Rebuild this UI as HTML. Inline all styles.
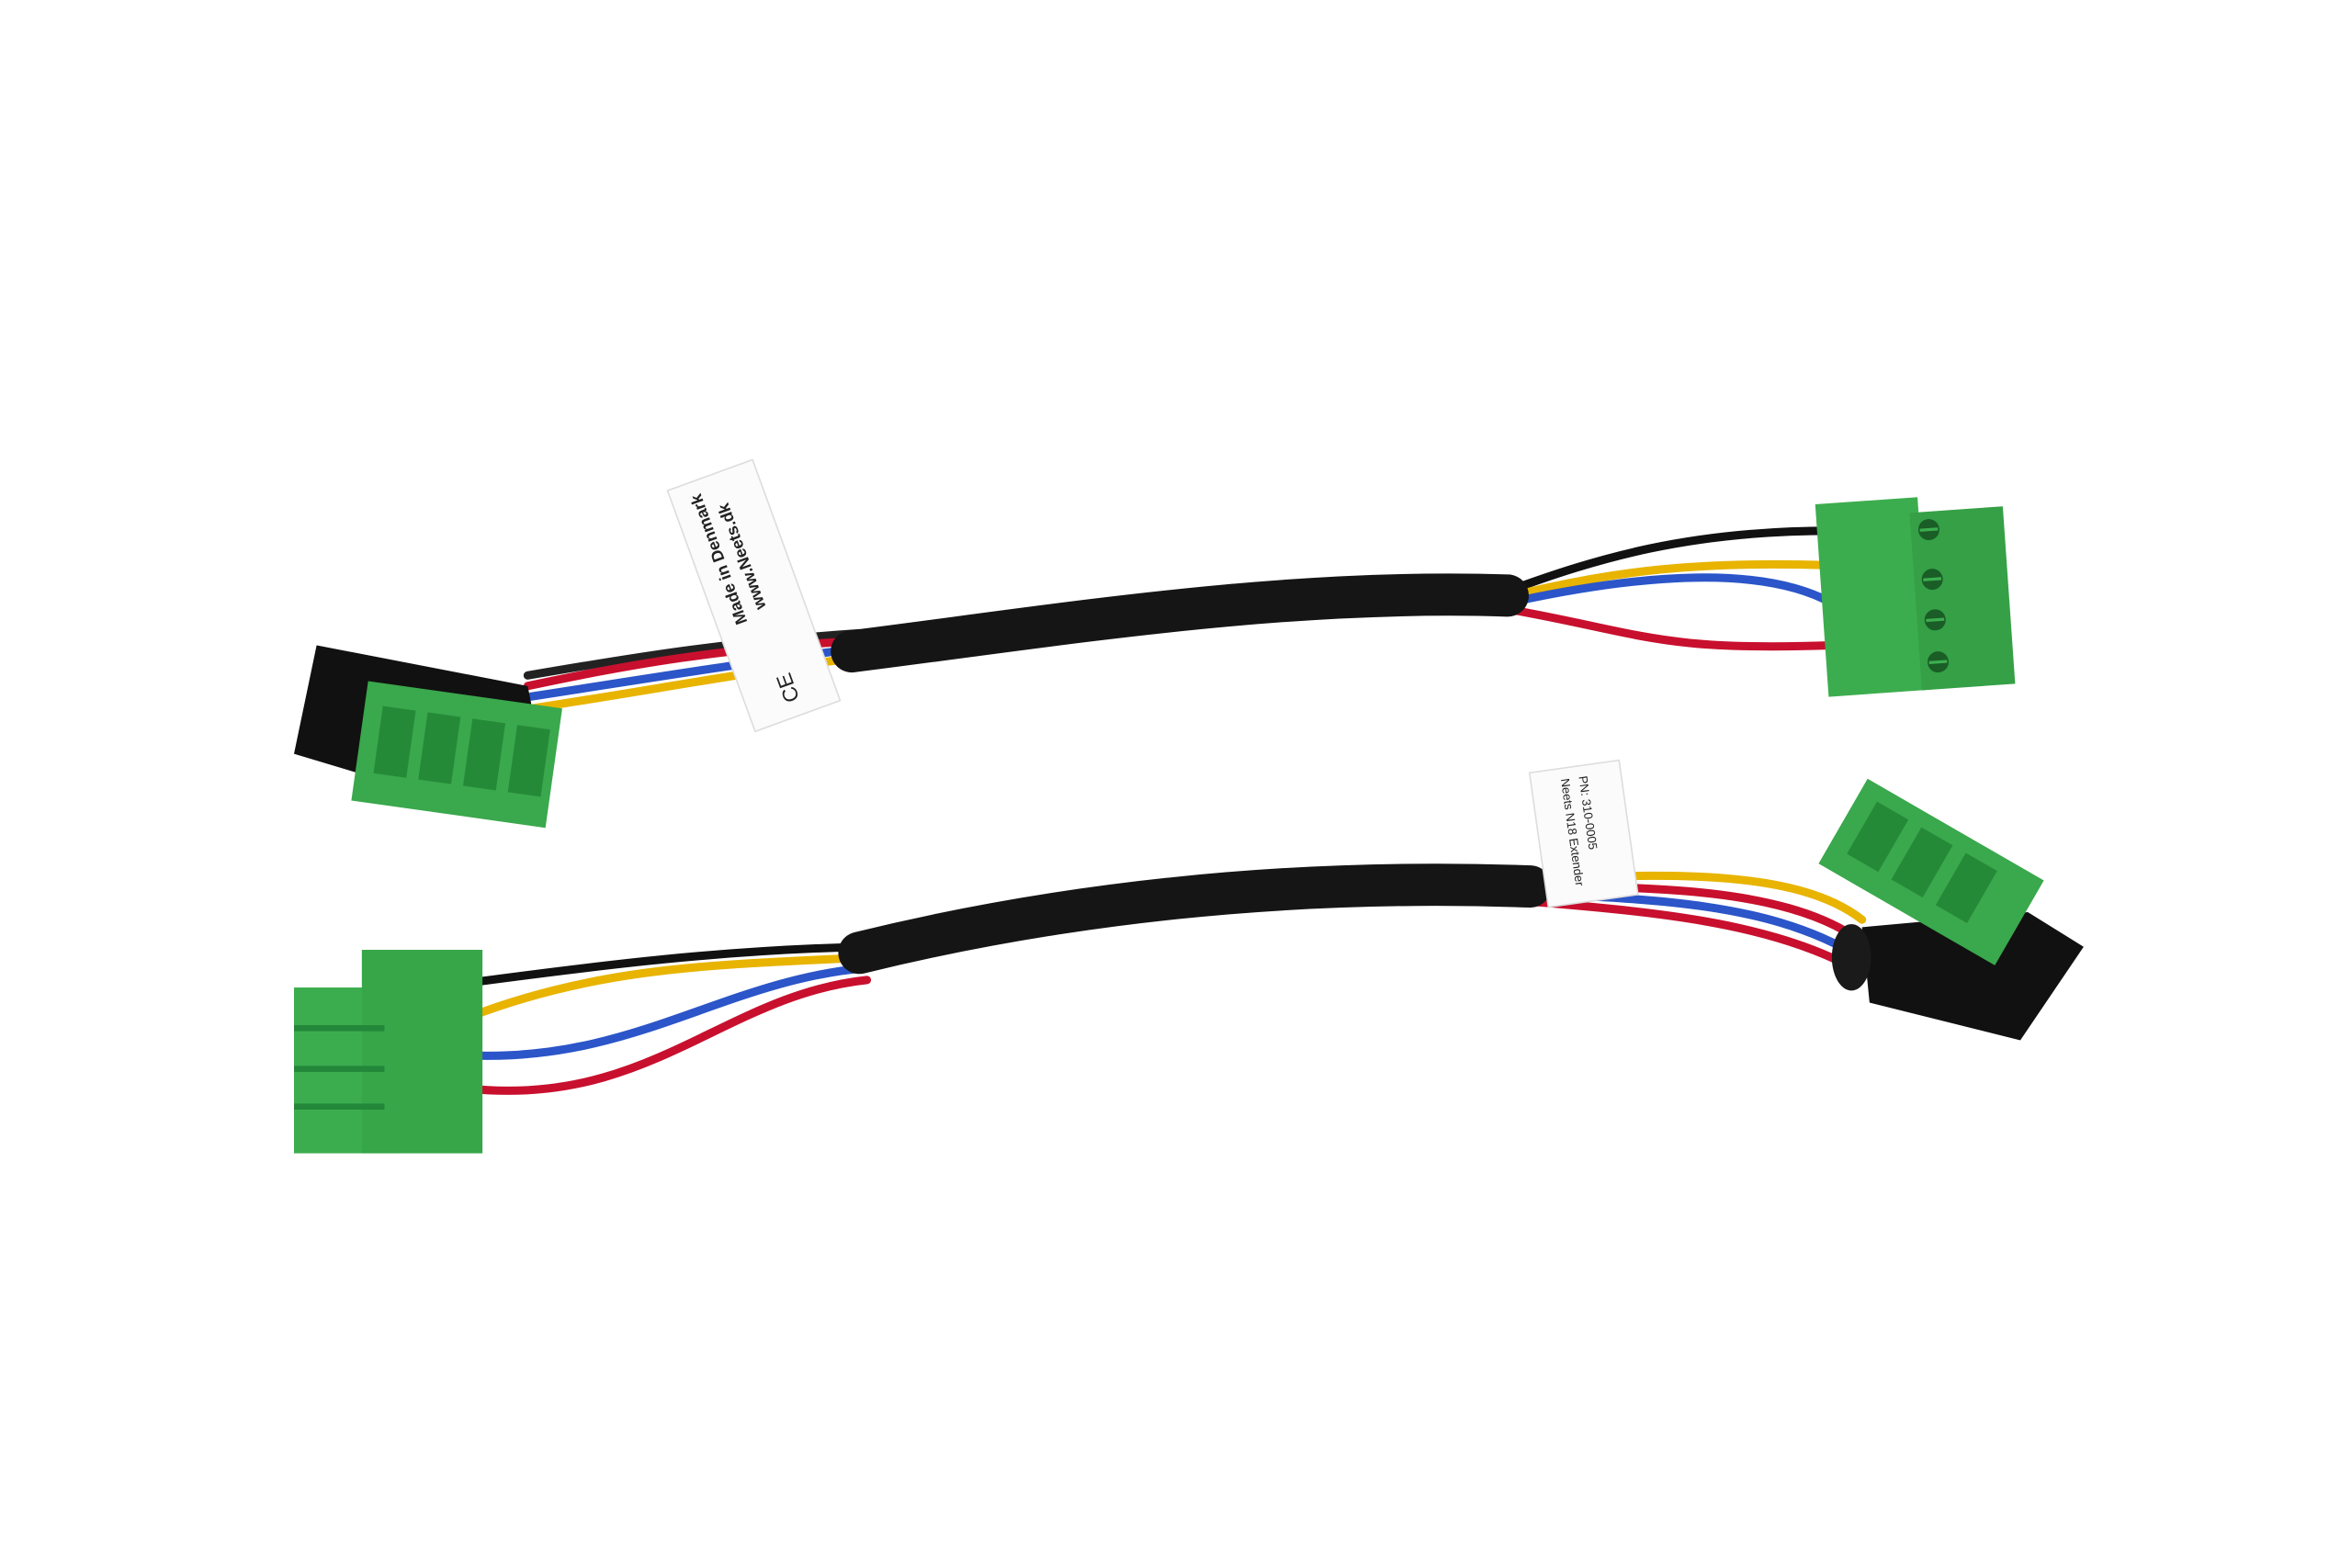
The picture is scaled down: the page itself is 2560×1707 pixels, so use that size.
<!DOCTYPE html>
<html><head><meta charset="utf-8"><style>
html,body{margin:0;padding:0;background:#fff;}
svg{display:block;}
</style></head><body>
<svg width="2560" height="1707" viewBox="0 0 1560 1040" xmlns="http://www.w3.org/2000/svg">
<rect width="1560" height="1040" fill="#fff"/>
<g fill="none" stroke-linecap="round">
<path d="M350 448 C420 436 480 426 570 420" stroke="#222" stroke-width="5.5"/>
<path d="M350 455 C420 440 480 430 570 425" stroke="#c8102e" stroke-width="5.5"/>
<path d="M352 462 C430 450 490 440 570 430" stroke="#2b55c8" stroke-width="5.5"/>
<path d="M352 470 C430 458 500 445 570 436" stroke="#e8b400" stroke-width="5.5"/>
<path d="M1000 392 C1060 370 1120 352 1215 352" stroke="#111" stroke-width="5.5"/>
<path d="M1000 396 C1070 378 1130 372 1215 375" stroke="#e8b400" stroke-width="5.5"/>
<path d="M1000 400 C1090 380 1170 375 1215 400" stroke="#2b55c8" stroke-width="5.5"/>
<path d="M1000 404 C1090 420 1100 432 1215 428" stroke="#c8102e" stroke-width="5.5"/>
<path d="M565 432 C700 415 850 390 1000 395" stroke="#151515" stroke-width="28"/>
<path d="M310 652 C400 640 480 630 575 628" stroke="#111" stroke-width="5.5"/>
<path d="M310 675 C400 640 480 640 575 635" stroke="#e8b400" stroke-width="5.5"/>
<path d="M310 700 C420 705 480 650 575 642" stroke="#2b55c8" stroke-width="5.5"/>
<path d="M310 722 C430 735 480 660 575 650" stroke="#c8102e" stroke-width="5.5"/>
<path d="M1015 583 C1100 580 1190 575 1235 610" stroke="#e8b400" stroke-width="5.5"/>
<path d="M1015 588 C1100 588 1180 590 1228 620" stroke="#c8102e" stroke-width="5.5"/>
<path d="M1015 593 C1100 596 1170 600 1225 630" stroke="#2b55c8" stroke-width="5.5"/>
<path d="M1015 598 C1100 605 1170 612 1225 640" stroke="#c8102e" stroke-width="5.5"/>
<path d="M570 632 C700 600 850 582 1015 588" stroke="#151515" stroke-width="28"/>
</g>
<path d="M210 428 L350 455 L355 480 L245 515 L195 500 Z" fill="#111"/>
<g transform="rotate(8 300 500)">
<rect x="238" y="460" width="130" height="80" fill="#3aa84c"/>
<rect x="250" y="475" width="22" height="45" fill="#258a38"/>
<rect x="280" y="475" width="22" height="45" fill="#258a38"/>
<rect x="310" y="475" width="22" height="45" fill="#258a38"/>
<rect x="340" y="475" width="22" height="45" fill="#258a38"/>
</g>
<g transform="rotate(-4 1270 390)">
<rect x="1208" y="330" width="68" height="128" fill="#3cad4e"/>
<rect x="1270" y="340" width="62" height="118" fill="#35a046"/>
<circle cx="1282" cy="352" r="7" fill="#1a5d26"/>
<circle cx="1282" cy="385" r="7" fill="#1a5d26"/>
<circle cx="1282" cy="412" r="7" fill="#1a5d26"/>
<circle cx="1282" cy="440" r="7" fill="#1a5d26"/>
<path d="M1276 352h12M1276 385h12M1276 412h12M1276 440h12" stroke="#3cad4e" stroke-width="2"/>
</g>
<rect x="195" y="655" width="70" height="110" fill="#3cad4e"/>
<rect x="240" y="630" width="80" height="135" fill="#36a648"/>
<rect x="195" y="680" width="60" height="4" fill="#23873a"/>
<rect x="195" y="707" width="60" height="4" fill="#23873a"/>
<rect x="195" y="732" width="60" height="4" fill="#23873a"/>
<path d="M1235 615 L1345 605 L1382 628 L1340 690 L1240 665 Z" fill="#111"/>
<ellipse cx="1228" cy="635" rx="13" ry="22" fill="#1a1a1a"/>
<g transform="rotate(30 1280 575)">
<rect x="1215" y="545" width="135" height="65" fill="#3aa84c"/>
<rect x="1228" y="555" width="24" height="40" fill="#258a38"/>
<rect x="1262" y="555" width="24" height="40" fill="#258a38"/>
<rect x="1296" y="555" width="24" height="40" fill="#258a38"/>
</g>
<g transform="rotate(-20 500 395)">
<rect x="470" y="310" width="60" height="170" fill="#fbfbfb" stroke="#ddd"/>
<text transform="translate(490 410) rotate(-90)" font-family="Liberation Sans, sans-serif" font-size="11" font-weight="bold" fill="#222">Made in Denmark</text>
<text transform="translate(505 405) rotate(-90)" font-family="Liberation Sans, sans-serif" font-size="11" font-weight="bold" fill="#222">www.Neets.dk</text>
<text transform="translate(505 470) rotate(-90)" font-family="Liberation Sans, sans-serif" font-size="14" fill="#222">CE</text>
</g>
<g transform="rotate(-8 1050 550)">
<rect x="1020" y="508" width="60" height="90" fill="#fbfbfb" stroke="#ddd"/>
<text transform="translate(1040 515) rotate(90)" font-family="Liberation Sans, sans-serif" font-size="8" fill="#222">Neets N18 Extender</text>
<text transform="translate(1052 515) rotate(90)" font-family="Liberation Sans, sans-serif" font-size="8" fill="#222">PN: 310-0005</text>
</g>
</svg>
</body></html>
